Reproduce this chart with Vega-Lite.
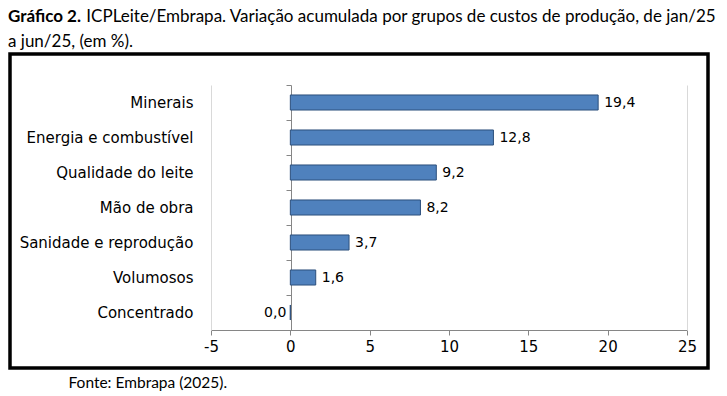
{
  "$schema": "https://vega.github.io/schema/vega-lite/v6.json",
  "width": 698,
  "height": 314,
  "autosize": {"type": "none"},
  "padding": {"left": 10, "top": 54, "right": 19, "bottom": 28},
  "background": "white",
  "config": {
    "locale": {"number": {"decimal": ",", "thousands": ".", "grouping": [3], "currency": ["R$", ""], "minus": "-"}},
    "view": {"stroke": "black", "strokeWidth": 3.5}
  },
  "title": {
    "text": "Gráfico 2.",
    "subtitle": ["\u200d\u00a0\u00a0\u00a0\u00a0\u00a0\u00a0\u00a0\u00a0\u00a0\u00a0\u00a0\u00a0\u00a0\u00a0\u00a0\u00a0\u00a0\u00a0ICPLeite/Embrapa. Variação acumulada por grupos de custos de produção, de jan/25", "a jun/25, (em %)."],
    "anchor": "start",
    "frame": "group",
    "dx": -2,
    "offset": 3,
    "font": "Lato",
    "fontSize": 17,
    "fontWeight": "bold",
    "color": "black",
    "subtitleFont": "Lato",
    "subtitleFontSize": 17,
    "subtitleFontWeight": "normal",
    "subtitleColor": "black",
    "subtitleLineHeight": 25,
    "subtitlePadding": -17.5
  },
  "data": {
    "values": [
      {"grupo": "Minerais", "valor": 19.4},
      {"grupo": "Energia e combustível", "valor": 12.8},
      {"grupo": "Qualidade do leite", "valor": 9.2},
      {"grupo": "Mão de obra", "valor": 8.2},
      {"grupo": "Sanidade e reprodução", "valor": 3.7},
      {"grupo": "Volumosos", "valor": 1.6},
      {"grupo": "Concentrado", "valor": 0.0}
    ]
  },
  "layer": [
    {
      "mark": {"type": "bar", "height": {"band": 0.43}, "fill": "#4f81bd", "stroke": "#2c4f7c", "strokeWidth": 1},
      "encoding": {
        "y": {
          "field": "grupo", "type": "nominal",
          "sort": ["Minerais", "Energia e combustível", "Qualidade do leite", "Mão de obra", "Sanidade e reprodução", "Volumosos", "Concentrado"],
          "scale": {"range": [31, 276], "paddingInner": 0, "paddingOuter": 0},
          "axis": {
            "orient": "left", "offset": -201, "title": null, "ticks": false,
            "domainColor": "#d9d9d9", "domainWidth": 1,
            "labelPadding": 18, "labelFont": "DejaVu Sans", "labelFontSize": 15, "labelColor": "black"
          }
        },
        "x": {
          "field": "valor", "type": "quantitative",
          "scale": {"domain": [-5, 25], "range": [201, 677], "nice": false, "zero": false},
          "axis": {
            "orient": "bottom", "offset": -38, "values": [-5, 0, 5, 10, 15, 20, 25], "grid": false,
            "labelFlush": false, "labelOverlap": false,
            "domainColor": "#868686", "tickColor": "#868686", "tickSize": 5,
            "labelFont": "DejaVu Sans", "labelFontSize": 15, "labelColor": "black", "labelPadding": 4,
            "title": "Fonte: Embrapa (2025).", "titleFont": "Lato", "titleFontSize": 15.5, "titleFontWeight": "normal",
            "titleColor": "black", "titleX": 58, "titleY": 52, "titleAlign": "left", "titleBaseline": "middle", "titleAngle": 0
          }
        }
      }
    },
    {
      "transform": [{"filter": "datum.valor > 0"}],
      "mark": {"type": "text", "align": "left", "baseline": "middle", "dx": 6, "font": "DejaVu Sans", "fontSize": 14, "color": "black"},
      "encoding": {
        "y": {
          "field": "grupo", "type": "nominal",
          "sort": ["Minerais", "Energia e combustível", "Qualidade do leite", "Mão de obra", "Sanidade e reprodução", "Volumosos", "Concentrado"],
          "axis": {
            "orient": "left", "offset": -281, "title": null, "labels": false,
            "domainColor": "#868686", "domainWidth": 1, "ticks": true, "tickColor": "#868686", "tickSize": 5, "tickBand": "extent"
          }
        },
        "x": {"field": "valor", "type": "quantitative"},
        "text": {"field": "valor", "type": "quantitative", "format": ".1f"}
      }
    },
    {
      "transform": [{"filter": "datum.valor == 0"}],
      "mark": {"type": "text", "align": "right", "baseline": "middle", "dx": -4, "font": "DejaVu Sans", "fontSize": 14, "color": "black"},
      "encoding": {
        "y": {
          "field": "grupo", "type": "nominal",
          "sort": ["Minerais", "Energia e combustível", "Qualidade do leite", "Mão de obra", "Sanidade e reprodução", "Volumosos", "Concentrado"],
          "axis": {
            "orient": "right", "offset": -21, "title": null, "labels": false, "ticks": false,
            "domainColor": "#d9d9d9", "domainWidth": 1
          }
        },
        "x": {"field": "valor", "type": "quantitative"},
        "text": {"field": "valor", "type": "quantitative", "format": ".1f"}
      }
    }
  ],
  "resolve": {"axis": {"y": "independent"}}
}
